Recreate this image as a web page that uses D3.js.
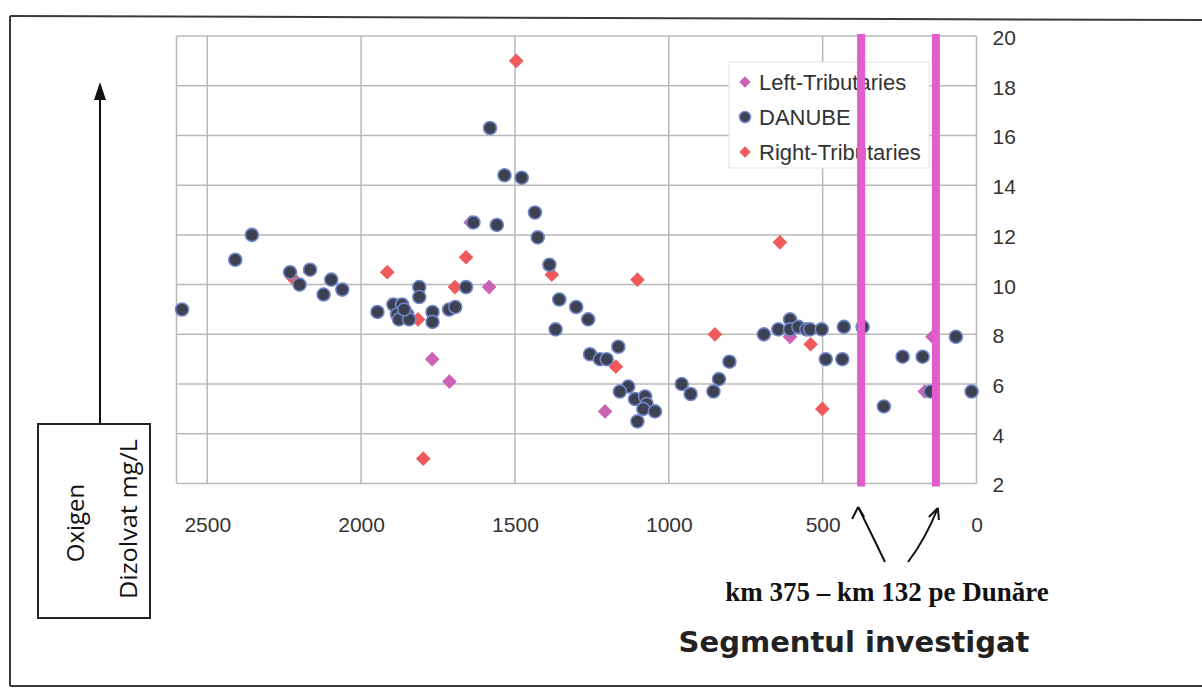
<!DOCTYPE html>
<html>
<head>
<meta charset="utf-8">
<script src="https://cdn.jsdelivr.net/npm/d3@7/dist/d3.min.js"></script>
<style>
  html, body { margin: 0; padding: 0; background: #fff; }
  svg { display: block; }
</style>
</head>
<body>
<svg id="chart" width="1202" height="690"></svg>
<script>
// Dissolved oxygen (mg/L) along the Danube, by river kilometre
const danubeKm = [2582, 2409, 2355, 2231, 2200, 2166, 2122, 2097, 2061, 1947,
  1895, 1867, 1883, 1850, 1877, 1844, 1860, 1811, 1811, 1768, 1768, 1714, 1694, 1659,
  1635, 1581, 1559, 1534, 1478, 1435, 1426, 1388, 1356, 1368, 1301, 1262,
  1256, 1224, 1202, 1164, 1132, 1159, 1110, 1077, 1072, 1083, 1045, 1102,
  958, 929, 855, 837, 803, 691, 644, 606, 606, 579, 553, 541, 503,
  490, 436, 431, 370, 301, 240, 175, 67, 149, 16];
const danubeDO = [9.0, 11.0, 12.0, 10.5, 10.0, 10.6, 9.6, 10.2, 9.8, 8.9,
  9.2, 9.2, 8.8, 8.8, 8.6, 8.6, 9.0, 9.9, 9.5, 8.9, 8.5, 9.0, 9.1, 9.9,
  12.5, 16.3, 12.4, 14.4, 14.3, 12.9, 11.9, 10.8, 9.4, 8.2, 9.1, 8.6,
  7.2, 7.0, 7.0, 7.5, 5.9, 5.7, 5.4, 5.5, 5.2, 5.0, 4.9, 4.5,
  6.0, 5.6, 5.7, 6.2, 6.9, 8.0, 8.2, 8.6, 8.2, 8.3, 8.2, 8.2, 8.2,
  7.0, 7.0, 8.3, 8.3, 5.1, 7.1, 7.1, 7.9, 5.7, 5.7];

const rightKm = [2225, 1915, 1815, 1798, 1695, 1659, 1496, 1380, 1102, 1172, 850, 639, 539, 501];
const rightDO = [10.3, 10.5, 8.6, 3.0, 9.9, 11.1, 19.0, 10.4, 10.2, 6.7, 8.0, 11.7, 7.6, 5.0];

const leftKm = [1769, 1713, 1584, 1644, 1207, 606, 143, 168];
const leftDO = [7.0, 6.1, 9.9, 12.5, 4.9, 7.9, 7.9, 5.7];

const xTicks = [2500, 2000, 1500, 1000, 500, 0];
const yTicks = [2, 4, 6, 8, 10, 12, 14, 16, 18, 20];

// Investigated stretch of the river (km 375 - km 132)
const segmentKm = [375, 132];

const seriesNames = ["Left-Tributaries", "DANUBE", "Right-Tributaries"];
const seriesColors = ["#cc62b4", "#3d4152", "#f05a5a"];

const svg = d3.select("#chart");

// page frame
const frame = svg.append("g").attr("stroke", "#3a3a3a").attr("stroke-width", 2).attr("fill", "none");
frame.append("line").attr("x1", 10).attr("y1", 16).attr("x2", 1202).attr("y2", 20);
frame.append("line").attr("x1", 10).attr("y1", 16).attr("x2", 10).attr("y2", 686);
frame.append("line").attr("x1", 10).attr("y1", 686).attr("x2", 1202).attr("y2", 686);

const x = d3.scaleLinear().domain([2600, 0]).range([176.5, 976.5]);
const y = d3.scaleLinear().domain([2, 20]).range([483.5, 36]);

// grid
const grid = svg.append("g").attr("stroke", "#b9b9b9").attr("stroke-width", 1.5);
grid.selectAll("line.v").data(xTicks).join("line")
  .attr("x1", d => x(d)).attr("x2", d => x(d))
  .attr("y1", y(20)).attr("y2", y(2));
grid.selectAll("line.h").data(yTicks).join("line")
  .attr("x1", x(2600)).attr("x2", x(0))
  .attr("y1", d => y(d)).attr("y2", d => y(d));
grid.append("line").attr("x1", x(2600)).attr("x2", x(2600)).attr("y1", y(20)).attr("y2", y(2));

// axes
const xAxis = svg.append("g")
  .attr("transform", `translate(0,${y(2)})`)
  .call(d3.axisBottom(x).tickValues(xTicks).tickSize(0).tickPadding(34).tickFormat(d3.format("d")));
const yAxis = svg.append("g")
  .attr("transform", `translate(${x(0)},0)`)
  .call(d3.axisRight(y).tickValues(yTicks).tickSize(0).tickPadding(16));
[xAxis, yAxis].forEach(a => {
  a.select(".domain").remove();
  a.selectAll("text")
    .attr("font-family", "'Liberation Sans', Arial, sans-serif")
    .attr("font-size", 21)
    .attr("fill", "#333");
});
yAxis.selectAll("text").attr("dy", "0.4em");

// legend
const legend = svg.append("g").attr("transform", "translate(729,62)");
legend.append("rect").attr("width", 200).attr("height", 106)
  .attr("fill", "#fff").attr("stroke", "#e2e2e2").attr("stroke-width", 1);

const diamond = d3.symbol().type(d3.symbolSquare);
function drawMarker(sel, i, size) {
  if (i === 1) {
    sel.append("circle").attr("r", size * 0.5)
      .attr("fill", seriesColors[1]).attr("stroke", "#7086c8").attr("stroke-width", 1.6);
  } else {
    sel.append("path").attr("d", diamond.size(size * size * 0.55)())
      .attr("transform", "rotate(45)")
      .attr("fill", seriesColors[i]);
  }
}
seriesNames.forEach((name, i) => {
  const row = legend.append("g").attr("transform", `translate(16,${20 + i * 35})`);
  drawMarker(row, i, 11);
  row.append("text").attr("x", 14).attr("dy", "0.36em")
    .attr("font-family", "'Liberation Sans', Arial, sans-serif")
    .attr("font-size", 22).attr("fill", "#333").text(name);
});

// points
const plot = svg.append("g");
function addSeries(kms, vals, i, size) {
  kms.forEach((km, k) => {
    const g = plot.append("g").attr("transform", `translate(${x(km)},${y(vals[k])})`);
    drawMarker(g, i, size);
  });
}
addSeries(leftKm, leftDO, 0, 14);
addSeries(rightKm, rightDO, 2, 14);
addSeries(danubeKm, danubeDO, 1, 13);

// investigated segment markers
svg.append("g").selectAll("line").data(segmentKm).join("line")
  .attr("x1", d => x(d)).attr("x2", d => x(d))
  .attr("y1", y(20) - 2).attr("y2", y(2) + 3)
  .attr("stroke", "#e25ccd").attr("stroke-width", 8);

// hand-drawn arrows pointing at the segment limits
const ann = svg.append("g").attr("stroke", "#111").attr("stroke-width", 2).attr("fill", "none");
ann.append("path").attr("d", `M885,562 Q872,535 ${x(segmentKm[0]) - 3},507`);
ann.append("path").attr("d", `M${x(segmentKm[0]) - 3},507 l-6,12 M${x(segmentKm[0]) - 3},507 l6,10`);
ann.append("path").attr("d", `M908,562 Q925,540 ${x(segmentKm[1]) + 2},508`);
ann.append("path").attr("d", `M${x(segmentKm[1]) + 2},508 l-9,9 M${x(segmentKm[1]) + 2},508 l1,12`);

svg.append("text").attr("x", 887).attr("y", 601).attr("text-anchor", "middle")
  .attr("font-family", "'Liberation Serif', 'Times New Roman', serif")
  .attr("font-weight", "bold").attr("font-size", 27).attr("fill", "#111")
  .text("km 375 – km 132 pe Dunăre");

svg.append("text").attr("x", 854).attr("y", 652).attr("text-anchor", "middle")
  .attr("font-family", "'DejaVu Sans', Verdana, sans-serif")
  .attr("font-weight", "bold").attr("font-size", 29).attr("fill", "#222")
  .text("Segmentul investigat");

// y-axis caption with upward arrow
const cap = svg.append("g");
cap.append("line").attr("x1", 100).attr("x2", 100).attr("y1", 424).attr("y2", 96)
  .attr("stroke", "#111").attr("stroke-width", 2);
cap.append("path").attr("d", "M100,82 L94,100 L106,100 Z").attr("fill", "#111");
cap.append("rect").attr("x", 38).attr("y", 424).attr("width", 112).attr("height", 194)
  .attr("fill", "#fff").attr("stroke", "#222").attr("stroke-width", 2);
cap.append("text").attr("transform", "translate(84,523) rotate(-90)")
  .attr("text-anchor", "middle")
  .attr("font-family", "'Open Sans', sans-serif").attr("font-size", 24).attr("fill", "#111")
  .text("Oxigen");
cap.append("text").attr("transform", "translate(137,519) rotate(-90)")
  .attr("text-anchor", "middle")
  .attr("font-family", "'Open Sans', sans-serif").attr("font-size", 24).attr("fill", "#111")
  .attr("textLength", 160).attr("lengthAdjust", "spacingAndGlyphs")
  .text("Dizolvat mg/L");
</script>
</body>
</html>
